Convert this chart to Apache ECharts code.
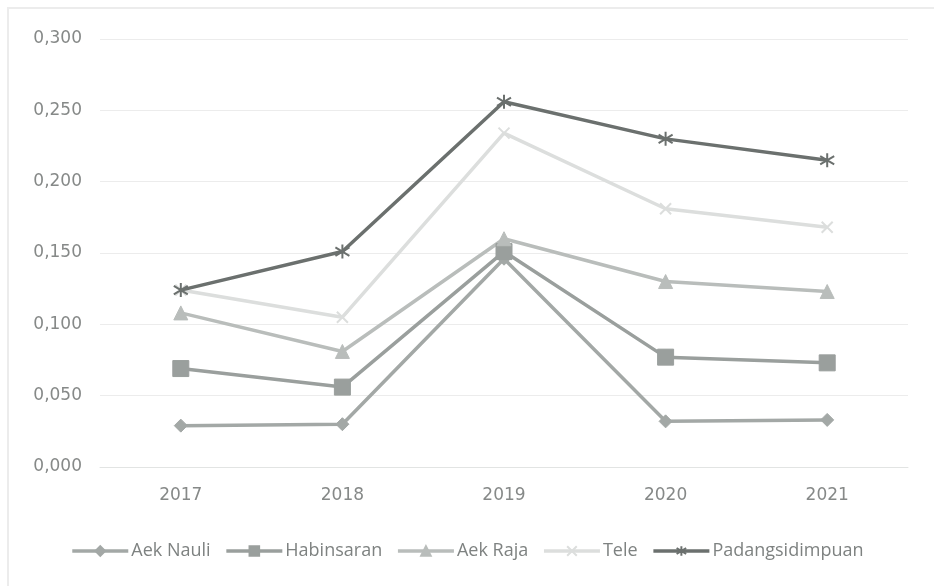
<!DOCTYPE html>
<html>
<head>
<meta charset="utf-8">
<script src="https://cdn.jsdelivr.net/npm/echarts@6/dist/echarts.min.js"></script>
<style>
  html, body { margin: 0; padding: 0; background: #fff; }
  #chart { width: 934px; height: 586px; }
</style>
</head>
<body>
<div id="chart"></div>
<script>
const years = ['2017', '2018', '2019', '2020', '2021'];
const aekNauli = [0.029, 0.030, 0.146, 0.032, 0.033];
const habinsaran = [0.069, 0.056, 0.151, 0.077, 0.073];
const aekRaja = [0.108, 0.081, 0.160, 0.130, 0.123];
const tele = [0.124, 0.105, 0.234, 0.181, 0.168];
const padangsidimpuan = [0.124, 0.151, 0.256, 0.230, 0.215];

const yTicks = ['0,000', '0,050', '0,100', '0,150', '0,200', '0,250', '0,300'];

// Asterisk and cross glyphs for the markers
const asterisk = 'path://M5,0 L5,10 M0,2 L10,8 M0,8 L10,2';
const cross = 'path://M0,0 L10,10 M0,10 L10,0';

function lineSeries(name, data, color, symbol, size, width, hollow) {
  return {
    name: name,
    type: 'line',
    data: data,
    symbol: symbol,
    symbolSize: size,
    showAllSymbol: true,
    lineStyle: { color: color, width: width },
    itemStyle: hollow
      ? { color: 'transparent', borderColor: color, borderWidth: 2 }
      : { color: color, borderColor: color, borderWidth: 1 },
    emphasis: { disabled: true },
    z: 2
  };
}

const chart = echarts.init(document.getElementById('chart'), null, { renderer: 'canvas' });
chart.setOption({
  backgroundColor: '#ffffff',
  animation: false,
  graphic: [{
    type: 'rect',
    shape: { x: 8, y: 8, width: 940, height: 600 },
    style: { fill: 'none', stroke: '#ececec', lineWidth: 2 },
    silent: true,
    z: -1
  }],
  grid: { left: 100, right: 26, top: 39, bottom: 119 },
  legend: {
    top: 537,
    left: 'center',
    itemWidth: 56,
    itemHeight: 12,
    itemGap: 14,
    lineStyle: { width: 3.5 },
    textStyle: { color: '#7e8281', fontSize: 18, fontFamily: 'Open Sans', padding: [0, 0, 0, -2] },
    data: ['Aek Nauli', 'Habinsaran', 'Aek Raja', 'Tele', 'Padangsidimpuan']
  },
  xAxis: {
    type: 'category',
    data: years,
    boundaryGap: true,
    axisLine: { show: true, lineStyle: { color: '#e2e4e3', width: 1 } },
    axisTick: { show: false },
    axisLabel: { color: '#868988', fontSize: 17, margin: 20, fontFamily: 'DejaVu Sans' },
    splitLine: { show: false }
  },
  yAxis: {
    type: 'value',
    min: 0,
    max: 0.3,
    interval: 0.05,
    axisLine: { show: false },
    axisTick: { show: false },
    axisLabel: {
      color: '#868988',
      fontSize: 17,
      margin: 18,
      fontFamily: 'DejaVu Sans',
      formatter: function (v) { return yTicks[Math.round(v / 0.05)]; }
    },
    splitLine: { show: true, lineStyle: { color: '#ececec', width: 1 } }
  },
  series: [
    lineSeries('Aek Nauli', aekNauli, '#a3a8a6', 'diamond', 13, 3.5, false),
    lineSeries('Habinsaran', habinsaran, '#9a9f9d', 'rect', 16, 3.5, false),
    lineSeries('Aek Raja', aekRaja, '#b9bdbb', 'triangle', 14, 3.5, false),
    lineSeries('Tele', tele, '#dcdedd', cross, 11, 3.5, true),
    lineSeries('Padangsidimpuan', padangsidimpuan, '#6b706e', asterisk, 14, 3.5, true)
  ]
});
</script>
</body>
</html>
